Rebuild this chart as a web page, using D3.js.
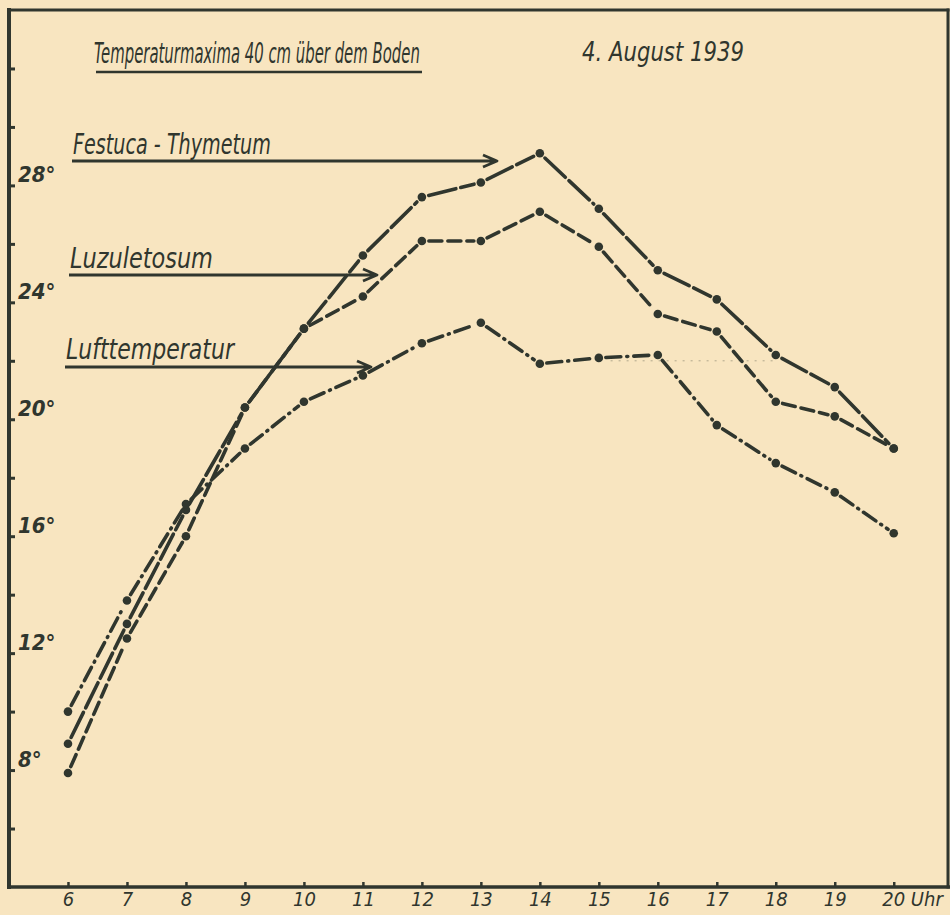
<!DOCTYPE html>
<html>
<head>
<meta charset="utf-8">
<script src="https://cdn.jsdelivr.net/npm/d3@7"></script>
<style>
    html, body { margin: 0; padding: 0; background: #f8e5c0; }
    svg { display: block; }
    text { font-family: "Liberation Sans Narrow", "DejaVu Sans Condensed", "Open Sans", sans-serif; font-style: italic; fill: #30362e; }
</style>
</head>
<body>
<script>
// values (degrees C, hour of day)
var hours = [6, 7, 8, 9, 10, 11, 12, 13, 14, 15, 16, 17, 18, 19, 20];
var festuca = [8.9, 13.0, 16.9, 20.4, 23.1, 25.6, 27.6, 28.1, 29.1, 27.2, 25.1, 24.1, 22.2, 21.1, 19.0];
var luzuletosum = [7.9, 12.5, 16.0, 20.4, 23.1, 24.2, 26.1, 26.1, 27.1, 25.9, 23.6, 23.0, 20.6, 20.1, 19.0];
var lufttemperatur = [10.0, 13.8, 17.1, 19.0, 20.6, 21.5, 22.6, 23.3, 21.9, 22.1, 22.2, 19.8, 18.5, 17.5, 16.1];

var yTicks = [6, 8, 10, 12, 14, 16, 18, 20, 22, 24, 26, 28, 30, 32];
var yLabelTicks = [8, 12, 16, 20, 24, 28];
var seriesNames = ["Festuca - Thymetum", "Luzuletosum", "Lufttemperatur"];
var title = "Temperaturmaxima 40 cm über dem Boden";
var dateText = "4. August 1939";
var guideLine = {from: 15.2, to: 18, value: 22}; // faint pencil guide

var ink = "#30362e";
var width = 950, height = 915;

var svg = d3.select("body").append("svg")
    .attr("width", width)
    .attr("height", height);

var x = d3.scaleLinear().domain([5, 20.92]).range([9, 948]);
var y = d3.scaleLinear().domain([4, 34]).range([887, 10]);

// squeeze a text horizontally to a given width (hand lettering is narrow)
function narrowText(txt, px, py, w, size) {
    var t = svg.append("text")
        .attr("font-size", size)
        .text(txt);
    var natural = t.node().getComputedTextLength();
    t.attr("transform", "translate(" + px + "," + py + ") scale(" + (w / natural) + ",1)");
    return t;
}

// frame
var frame = svg.append("g").attr("stroke", ink).attr("fill", "none").attr("stroke-linecap", "square");
frame.append("line").attr("x1", x(5)).attr("x2", x(5)).attr("y1", y(34)).attr("y2", y(4)).attr("stroke-width", 4);
frame.append("line").attr("x1", x(5)).attr("x2", x(20.92)).attr("y1", y(34)).attr("y2", y(34)).attr("stroke-width", 3);
frame.append("line").attr("x1", x(20.92)).attr("x2", x(20.92)).attr("y1", y(34)).attr("y2", y(4)).attr("stroke-width", 3);
frame.append("line").attr("x1", x(5)).attr("x2", width).attr("y1", y(4)).attr("y2", y(4)).attr("stroke-width", 3.5);

// y ticks (inside), labels inside the frame
var yAxis = svg.append("g")
    .attr("transform", "translate(" + x(5) + ",0)")
    .call(d3.axisRight(y).tickValues(yTicks).tickSize(6).tickFormat(""));
yAxis.select(".domain").remove();
yAxis.selectAll(".tick line").attr("stroke", ink).attr("stroke-width", 3);

svg.append("g").selectAll("text")
    .data(yLabelTicks)
    .enter().append("text")
    .attr("x", 18)
    .attr("y", function (d) { return y(d) - 3; })
    .attr("font-size", 22)
    .attr("font-weight", "bold")
    .text(function (d) { return d + "°"; });

// x ticks (pointing up), labels below
var xAxis = svg.append("g")
    .attr("transform", "translate(0," + y(4) + ")")
    .call(d3.axisBottom(x).tickValues(hours).tickSize(-5).tickPadding(6).tickFormat(function (d) {
        return d === 20 ? "20 Uhr" : d;
    }));
xAxis.select(".domain").remove();
xAxis.selectAll(".tick line").attr("stroke", ink).attr("stroke-width", 2.5);
xAxis.selectAll(".tick text")
    .attr("fill", ink)
    .attr("font-size", 20)
    .attr("font-family", null)
    .attr("y", 5)
    .filter(function (d) { return d === 20; })
    .attr("text-anchor", "start")
    .attr("dx", -12);

// faint guide
svg.append("line")
    .attr("x1", x(guideLine.from)).attr("x2", x(guideLine.to))
    .attr("y1", y(guideLine.value)).attr("y2", y(guideLine.value))
    .attr("stroke", ink).attr("stroke-opacity", 0.35)
    .attr("stroke-width", 1).attr("stroke-dasharray", "2,6");

// series
var series = [
    {name: seriesNames[0], values: festuca, dash: "28,5"},
    {name: seriesNames[1], values: luzuletosum, dash: "13,6"},
    {name: seriesNames[2], values: lufttemperatur, dash: "15,6,1,6"}
];

series.forEach(function (s) {
    var pts = hours.map(function (h, i) { return [x(h), y(s.values[i])]; });
    var g = svg.append("g");
    for (var i = 0; i < pts.length - 1; i++) {
        var a = pts[i], b = pts[i + 1];
        var dx = b[0] - a[0], dy = b[1] - a[1];
        var len = Math.sqrt(dx * dx + dy * dy);
        var gap = 7;
        g.append("line")
            .attr("x1", a[0] + dx / len * gap).attr("y1", a[1] + dy / len * gap)
            .attr("x2", b[0] - dx / len * gap).attr("y2", b[1] - dy / len * gap)
            .attr("stroke", ink)
            .attr("stroke-width", 3.6)
            .attr("stroke-linecap", "round")
            .attr("stroke-dasharray", s.dash);
    }
    g.selectAll("circle")
        .data(pts)
        .enter().append("circle")
        .attr("cx", function (d) { return d[0]; })
        .attr("cy", function (d) { return d[1]; })
        .attr("r", 4.3)
        .attr("fill", ink);
});

// title
narrowText(title, 94, 63, 326, 28);
svg.append("line")
    .attr("x1", 96).attr("x2", 422).attr("y1", 72).attr("y2", 72)
    .attr("stroke", ink).attr("stroke-width", 2.5);
narrowText(dateText, 582, 61, 162, 26);

// series labels with arrows
var labelLayout = [
    {tx: 73, ty: 154, tw: 198, ly: 161, x2: 497},
    {tx: 70, ty: 268, tw: 143, ly: 275, x2: 377},
    {tx: 66, ty: 359, tw: 168, ly: 367, x2: 371}
];

labelLayout.forEach(function (l, i) {
    narrowText(seriesNames[i], l.tx, l.ty, l.tw, 28);
    svg.append("path")
        .attr("d", "M" + (l.tx - 1) + "," + l.ly + "H" + l.x2 +
            "M" + (l.x2 - 14) + "," + (l.ly - 6) + "L" + l.x2 + "," + l.ly + "L" + (l.x2 - 14) + "," + (l.ly + 6))
        .attr("fill", "none")
        .attr("stroke", ink)
        .attr("stroke-width", 2.8)
        .attr("stroke-linejoin", "round");
});
</script>
</body>
</html>
